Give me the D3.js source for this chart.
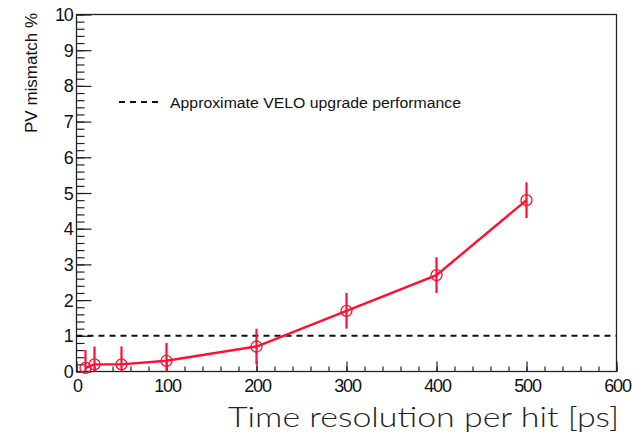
<!DOCTYPE html>
<html><head><meta charset="utf-8">
<script src="https://cdn.jsdelivr.net/npm/d3@7"></script>
<style>body{margin:0;background:#fff}svg{display:block}</style>
</head><body>
<script>
const xValues = [10, 20, 50, 100, 200, 300, 400, 500];
const yValues = [0.1, 0.2, 0.2, 0.3, 0.7, 1.7, 2.7, 4.8];
const yErrors = [0.5, 0.5, 0.5, 0.5, 0.5, 0.5, 0.5, 0.5];
const referenceLevel = 1;
const xTicks = [0, 100, 200, 300, 400, 500, 600];
const yTicks = [0,1,2,3,4,5,6,7,8,9,10];
const legendLabel = "Approximate VELO upgrade performance";
const xTitle = "Time resolution per hit [ps]";
const yTitle = "PV mismatch %";

const W = 642, H = 439;
const L = 76.5, R = 616.5, T = 14.5, B = 371.5;
const svg = d3.select("body").append("svg").attr("width", W).attr("height", H);
const x = d3.scaleLinear().domain([0, 600]).range([L, R]);
const y = d3.scaleLinear().domain([0, 10]).range([B, T]);
const axisColor = "#222";
const red = "#ff1030";

// frame
svg.append("rect").attr("x", L).attr("y", T).attr("width", R - L).attr("height", B - T)
  .attr("fill", "none").attr("stroke", axisColor).attr("stroke-width", 1.3);

// y axis ticks
const yMinor = d3.range(0, 10.001, 0.2);
const ga = svg.append("g");
ga.append("g").attr("transform", `translate(${L},0)`)
  .call(d3.axisRight(y).tickValues(yMinor).tickSize(8).tickFormat(""))
  .call(g => g.select(".domain").remove())
  .call(g => g.selectAll("line").attr("stroke", axisColor).attr("stroke-width", 1.2));
ga.append("g").attr("transform", `translate(${L},0)`)
  .call(d3.axisRight(y).tickValues(yTicks).tickSize(15).tickFormat(""))
  .call(g => g.select(".domain").remove())
  .call(g => g.selectAll("line").attr("stroke", axisColor).attr("stroke-width", 1.2));
ga.append("g").selectAll("text").data(yTicks).join("text")
  .attr("x", L - 4).attr("y", d => y(d) + 6.5).attr("text-anchor", "end")
  .attr("font-family", "Liberation Sans, Arial, sans-serif").attr("font-size", 18)
  .attr("fill", "#111").attr("letter-spacing", -1.2).text(d => d);

// x axis ticks
const xMinor = d3.range(0, 600.001, 20);
ga.append("g").attr("transform", `translate(0,${B})`)
  .call(d3.axisTop(x).tickValues(xMinor).tickSize(5).tickFormat(""))
  .call(g => g.select(".domain").remove())
  .call(g => g.selectAll("line").attr("stroke", axisColor).attr("stroke-width", 1.2));
ga.append("g").attr("transform", `translate(0,${B})`)
  .call(d3.axisTop(x).tickValues(xTicks).tickSize(10).tickFormat(""))
  .call(g => g.select(".domain").remove())
  .call(g => g.selectAll("line").attr("stroke", axisColor).attr("stroke-width", 1.2));
ga.append("g").selectAll("text").data(xTicks).join("text")
  .attr("x", d => x(d) + 1).attr("y", B + 20).attr("text-anchor", "middle")
  .attr("font-family", "Liberation Sans, Arial, sans-serif").attr("font-size", 18)
  .attr("fill", "#111").attr("letter-spacing", -1.2).text(d => d);

// reference dashed line
svg.append("line").attr("x1", L).attr("x2", R).attr("y1", y(referenceLevel)).attr("y2", y(referenceLevel))
  .attr("stroke", "#111").attr("stroke-width", 2).attr("stroke-dasharray", "6,5");

// legend
svg.append("line").attr("x1", 119).attr("x2", 162).attr("y1", 102).attr("y2", 102)
  .attr("stroke", "#111").attr("stroke-width", 2).attr("stroke-dasharray", "6,5");
svg.append("text").attr("x", 170).attr("y", 107.5)
  .attr("font-family", "Liberation Sans, Arial, sans-serif").attr("font-size", 15.5)
  .attr("fill", "#111").attr("textLength", 291).attr("lengthAdjust", "spacingAndGlyphs")
  .text(legendLabel);

// data
const pts = xValues.map((v, i) => ({x: v, y: yValues[i], e: yErrors[i]}));
const clipY = v => Math.max(0, v);
svg.append("g").selectAll("line").data(pts).join("line")
  .attr("x1", d => x(d.x)).attr("x2", d => x(d.x))
  .attr("y1", d => y(clipY(d.y - d.e))).attr("y2", d => y(d.y + d.e))
  .attr("stroke", red).attr("stroke-width", 2.2);
svg.append("path").datum(pts)
  .attr("d", d3.line().x(d => x(d.x)).y(d => y(d.y)))
  .attr("fill", "none").attr("stroke", red).attr("stroke-width", 2.4);
svg.append("g").selectAll("circle").data(pts).join("circle")
  .attr("cx", d => x(d.x)).attr("cy", d => y(d.y)).attr("r", 5.5)
  .attr("fill", "none").attr("stroke", red).attr("stroke-width", 1.3);

// titles
svg.append("text").attr("transform", "translate(37,73) rotate(-90)").attr("text-anchor", "middle")
  .attr("font-family", "Liberation Sans, Arial, sans-serif").attr("font-size", 16)
  .attr("fill", "#111").attr("textLength", 120).attr("lengthAdjust", "spacingAndGlyphs").text(yTitle);
svg.append("text").attr("x", 228).attr("y", 427)
  .attr("font-family", "Lato, 'Open Sans', sans-serif").attr("font-weight", 300).attr("font-size", 28)
  .attr("fill", "#222").attr("textLength", 391).attr("lengthAdjust", "spacingAndGlyphs").text(xTitle);
</script>
</body></html>
